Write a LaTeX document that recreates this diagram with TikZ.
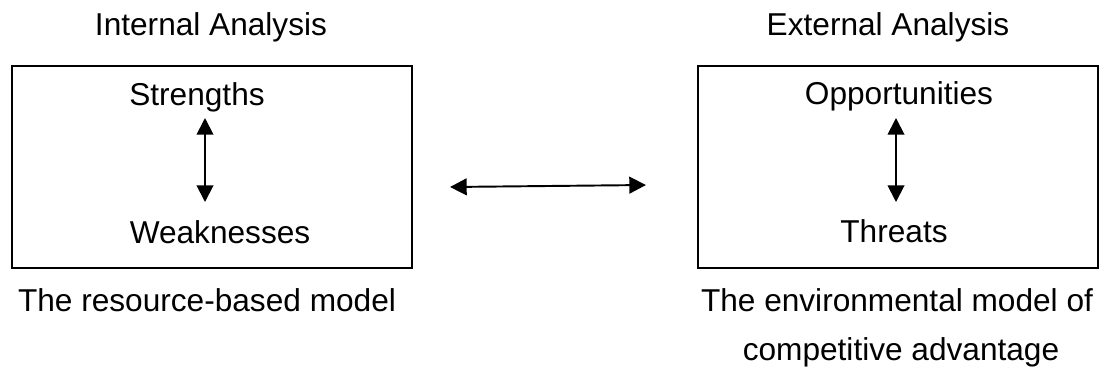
\documentclass[tikz,border=0pt]{standalone}
\usepackage{fontspec}
\setmainfont{Liberation Sans}
\usetikzlibrary{arrows.meta}
\usetikzlibrary{positioning}
\tikzset{
    label text/.style={
        anchor=base,
        inner sep=0pt,
        font=\fontsize{18pt}{22pt}\selectfont
    },
    both arrow/.style={
        {Triangle[length=9.5pt, width=9.5pt]}-{Triangle[length=9.5pt, width=9.5pt]},
        line width=1.1pt
    }
}

\begin{document}
\begin{tikzpicture}[
      x = 0.02cm,
      y = -0.02cm,
      analysis box/.style = {draw, line width=1.1pt, minimum width=8cm, minimum height=4.04cm, inner sep=0pt}
  ]
  \useasboundingbox (0,0) rectangle (1099,373);

  % Define the boxes
  \node[analysis box] (intbox) at (212,167) {};
  \node[analysis box] (extbox) at (898,167) {};

  % Headings above the boxes
  \node[label text] (inthead) at (211,35) {Internal Analysis};
  \node[label text] (exthead) at (888,35) {External Analysis};

  % Texts inside the boxes
  \node[label text] (str) at (197,105) {Strengths};
  \node[label text] (weak) at (220,243) {Weaknesses};
  \node[label text] (opp) at (899,104) {Opportunities};
  \node[label text] (thr) at (894,242) {Threats};

  % Captions below the boxes
  \node[label text] (intcap) at (207,311) {The resource-based model};
  \node[label text] (extcap1) at (897,311) {The environmental model of};
  \node[label text] (extcap2) at (901,360) {competitive advantage};

  % Arrow ends
  \coordinate (strend) at (205,118);
  \coordinate (weakend) at (205,202);
  \coordinate (oppend) at (896,118);
  \coordinate (thrend) at (896,202);
  \coordinate (intend) at (450,187);
  \coordinate (extend) at (646,185);

  % Define the arrows
  \draw[both arrow] (strend) -- (weakend);
  \draw[both arrow] (oppend) -- (thrend);
  \draw[both arrow] (intend) -- (extend);
\end{tikzpicture}
\end{document}
